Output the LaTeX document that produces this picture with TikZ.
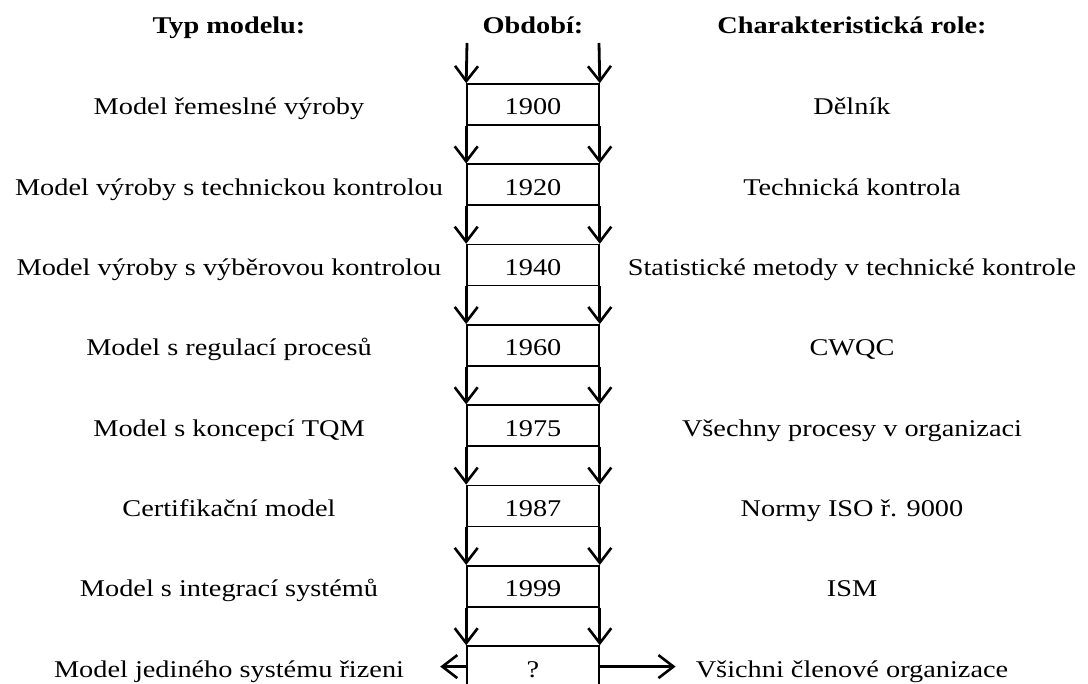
\documentclass[tikz,border=0pt]{standalone}
\usepackage{fontspec}
\setmainfont{Liberation Serif}[FakeStretch=1.18]
\usepackage{tikz}
\usetikzlibrary{positioning, calc, arrows.meta}

\begin{document}
\begin{tikzpicture}[x=1pt, y=-1pt,
    every node/.style={font=\fontsize{24}{28}\selectfont, inner sep=0pt, text height=21pt, text depth=0pt},
    headtext/.style={font=\fontsize{24}{28}\selectfont\bfseries},
    yearbox/.style={draw, line width=1.6pt, minimum width=132pt, minimum height=41pt},
    flowline/.style={line width=2.8pt, -{Straight Barb[length=15pt, width=23pt, line width=2.6pt]}}
  ]
    \useasboundingbox (0,0) rectangle (1088,684);

    % Headers
    \node[headtext] (hmodel) at (229,23) {Typ modelu:};
    \node[headtext] (hyear)  at (533,23) {Období:};
    \node[headtext] (hrole)  at (852,23) {Charakteristická role:};

    % Year boxes
    \node[yearbox] (y1) at (533,104.5) {1900};
    \node[yearbox] (y2) at (533,184.8) {1920};
    \node[yearbox] (y3) at (533,265.1) {1940};
    \node[yearbox] (y4) at (533,345.4) {1960};
    \node[yearbox] (y5) at (533,425.7) {1975};
    \node[yearbox] (y6) at (533,506.0) {1987};
    \node[yearbox] (y7) at (533,586.3) {1999};
    \node[yearbox] (y8) at (533,666.6) {?};

    % Model types
    \node (m1) at (229,104.5) {Model řemeslné výroby};
    \node (m2) at (229,184.8) {Model výroby s technickou kontrolou};
    \node (m3) at (229,265.1) {Model výroby s výběrovou kontrolou};
    \node (m4) at (229,345.4) {Model s regulací procesů};
    \node (m5) at (229,425.7) {Model s koncepcí TQM};
    \node (m6) at (229,506.0) {Certifikační model};
    \node (m7) at (229,586.3) {Model s integrací systémů};
    \node (m8) at (229,666.6) {Model jediného systému řizeni};

    % Roles
    \node (r1) at (852,104.5) {Dělník};
    \node (r2) at (852,184.8) {Technická kontrola};
    \node (r3) at (852,265.1) {Statistické metody v technické kontrole};
    \node (r4) at (852,345.4) {CWQC};
    \node (r5) at (852,425.7) {Všechny procesy v organizaci};
    \node (r6) at (852,506.0) {Normy ISO ř. 9000};
    \node (r7) at (852,586.3) {ISM};
    \node (r8) at (852,666.6) {Všichni členové organizace};

    % Incoming arrows
    \coordinate (inl) at (467,43);
    \coordinate (inr) at (599,43);
    \draw[flowline] (inl) -- (y1.north west);
    \draw[flowline] (inr) -- (y1.north east);

    % Arrows between periods
    \draw[flowline] (y1.south west) -- (y2.north west);
    \draw[flowline] (y1.south east) -- (y2.north east);
    \draw[flowline] (y2.south west) -- (y3.north west);
    \draw[flowline] (y2.south east) -- (y3.north east);
    \draw[flowline] (y3.south west) -- (y4.north west);
    \draw[flowline] (y3.south east) -- (y4.north east);
    \draw[flowline] (y4.south west) -- (y5.north west);
    \draw[flowline] (y4.south east) -- (y5.north east);
    \draw[flowline] (y5.south west) -- (y6.north west);
    \draw[flowline] (y5.south east) -- (y6.north east);
    \draw[flowline] (y6.south west) -- (y7.north west);
    \draw[flowline] (y6.south east) -- (y7.north east);
    \draw[flowline] (y7.south west) -- (y8.north west);
    \draw[flowline] (y7.south east) -- (y8.north east);

    % Outgoing arrows of the last period
    \draw[flowline, shorten >=36pt] (y8.west) -- (m8.east);
    \draw[flowline, shorten >=20pt] (y8.east) -- (r8.west);
\end{tikzpicture}
\end{document}
